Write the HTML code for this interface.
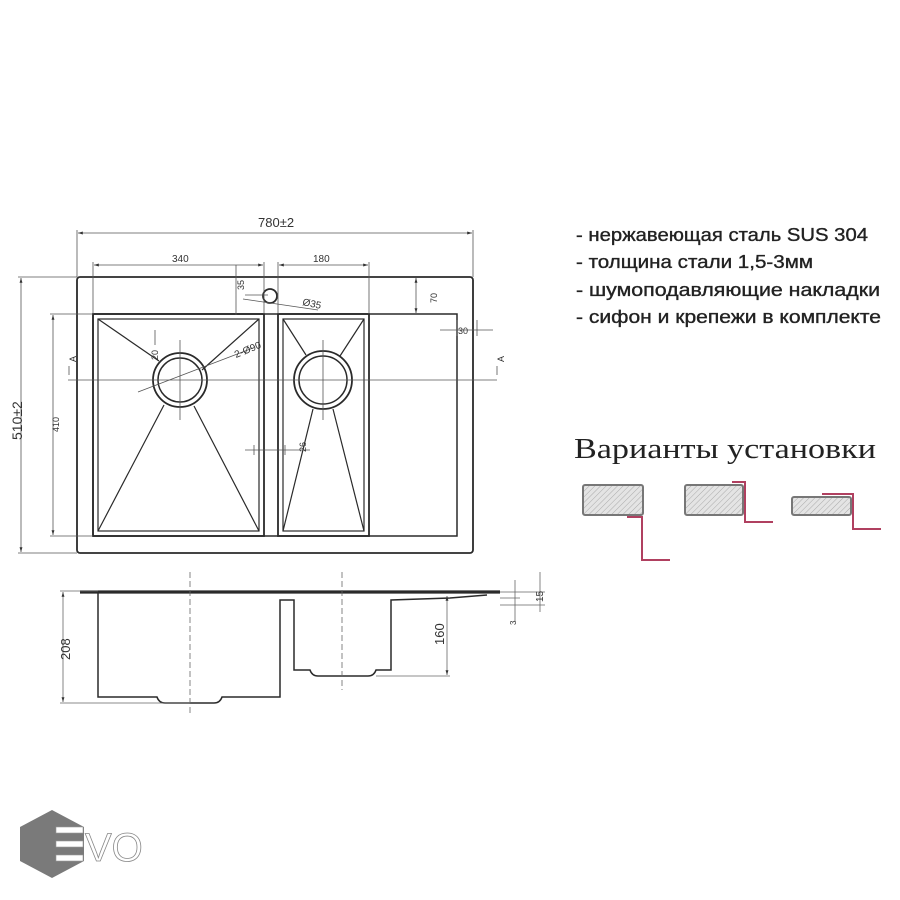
<!DOCTYPE html>
<html><head><meta charset="utf-8"><style>
html,body{margin:0;padding:0;background:#fff;}
svg{display:block}
</style></head><body>
<svg width="900" height="900" viewBox="0 0 900 900" xmlns="http://www.w3.org/2000/svg" font-family="Liberation Sans, sans-serif">
<defs>
<marker id="ar" viewBox="0 0 10 10" refX="10" refY="5" markerWidth="6" markerHeight="6" orient="auto-start-reverse"><path d="M0 2 L10 5 L0 8 Z" fill="#333"/></marker>
<pattern id="h" width="4" height="4" patternUnits="userSpaceOnUse" patternTransform="rotate(45)"><rect width="4" height="4" fill="#e4e4e4"/><line x1="0" y1="0" x2="0" y2="4" stroke="#aaa" stroke-width="1"/></pattern>
</defs>
<g stroke="#2a2a2a" fill="none" stroke-width="1.2">
<rect x="77" y="277" width="396" height="276" rx="3" stroke-width="1.8"/>
<path d="M93 314 H457 V536 H93 Z" stroke-width="1.5"/>
<rect x="93" y="314" width="171" height="222" stroke-width="1.8"/>
<rect x="98" y="319" width="161" height="212"/>
<rect x="278" y="314" width="91" height="222" stroke-width="1.8"/>
<rect x="283" y="319" width="81" height="212"/>
<circle cx="180" cy="380" r="27" stroke-width="1.8"/><circle cx="180" cy="380" r="22" stroke-width="1.5"/>
<circle cx="323" cy="380" r="29" stroke-width="1.8"/><circle cx="323" cy="380" r="24" stroke-width="1.5"/>
<path d="M98 319 L159 361 M259 319 L202 370 M164 405 L98 531 M194 406 L259 531"/>
<path d="M283 319 L306 355 M364 319 L340 356 M313 409 L283 531 M333 409 L364 531"/>
<circle cx="270" cy="296" r="7" stroke-width="1.8"/>
</g>
<g stroke="#555" fill="none" stroke-width="0.8">
<path d="M77 230 V277 M473 230 V277"/>
<path d="M78 233 H472" marker-start="url(#ar)" marker-end="url(#ar)"/>
<path d="M93 262 V314 M264 262 V314 M278 262 V314 M369 262 V314"/>
<path d="M94 265 H263" marker-start="url(#ar)" marker-end="url(#ar)"/>
<path d="M279 265 H368" marker-start="url(#ar)" marker-end="url(#ar)"/>
<path d="M18 277 H77 M18 553 H77"/>
<path d="M21 278 V552" marker-start="url(#ar)" marker-end="url(#ar)"/>
<path d="M50 314 H93 M50 536 H93"/>
<path d="M53 315 V535" marker-start="url(#ar)" marker-end="url(#ar)"/>
<path d="M68 380 H497 M69 366 V375 M497 366 V375"/>
<path d="M236 265 V315 M245 295 H268 M243 299 L318 310"/>
<path d="M416 278 V313" marker-start="url(#ar)" marker-end="url(#ar)"/>
<path d="M440 330 H493 M457 320 V336 M477 320 V336"/>
<path d="M245 450 H310 M254 445 V455 M285 445 V455"/>
<path d="M138 392 L253 348 M155 330 V345"/>
<path d="M180 340 V420 M323 340 V420"/>
</g>
<g fill="#333" font-family="Liberation Sans Narrow, Liberation Sans, sans-serif" font-size="11">
<text x="258" y="227" font-size="13">780±2</text>
<text x="172" y="262" font-size="10">340</text>
<text x="313" y="262" font-size="10">180</text>
<text x="302" y="305" font-size="10" transform="rotate(12 302 305)">Ø35</text>
<text x="458" y="334" font-size="9">30</text>
<text x="236" y="358" font-size="10" transform="rotate(-22 236 358)">2-Ø90</text>
<text transform="translate(22 440) rotate(-90)" font-size="14">510±2</text>
<text transform="translate(59 432) rotate(-90)" font-size="9">410</text>
<text transform="translate(437 303) rotate(-90)" font-size="9">70</text>
<text transform="translate(244 290) rotate(-90)" font-size="9">35</text>
<text transform="translate(158 360) rotate(-90)" font-size="9">20</text>
<text transform="translate(306 452) rotate(-90)" font-size="9">26</text>
<text transform="translate(76 362) rotate(-90)" font-size="9">A</text>
<text transform="translate(504 362) rotate(-90)" font-size="9">A</text>
</g>
<g stroke="#2a2a2a" fill="none" stroke-width="1.5">
<path d="M80 592 H500" stroke-width="3.2"/>
<path d="M98 593 V697 H157 Q159 703 165 703 H214 Q220 703 222 697 H280 V600 H294 V670 H310 Q312 676 318 676 H368 Q374 676 376 670 H391 V600 L450 598 L487 595"/>
</g>
<g stroke="#666" fill="none" stroke-width="0.8">
<path d="M190 572 V715 M342 572 V690" stroke-dasharray="6 3"/>
<path d="M60 591 H98 M60 703 H190"/>
<path d="M63 592 V702" marker-start="url(#ar)" marker-end="url(#ar)"/>
<path d="M376 676 H450"/>
<path d="M447 596 V675" marker-start="url(#ar)" marker-end="url(#ar)"/>
<path d="M515 580 V622 M540 572 V612 M500 592 H545 M500 598 H520 M500 605 H545"/>
</g>
<g fill="#333" font-family="Liberation Sans Narrow, Liberation Sans, sans-serif">
<text transform="translate(70 660) rotate(-90)" font-size="13">208</text>
<text transform="translate(444 645) rotate(-90)" font-size="13">160</text>
<text transform="translate(543 602) rotate(-90)" font-size="10">15</text>
<text transform="translate(516 625) rotate(-90)" font-size="8">3</text>
</g>
<g fill="#222" font-size="18" stroke="#222" stroke-width="0.35" lengthAdjust="spacingAndGlyphs">
<text x="576" y="241" textLength="292" lengthAdjust="spacingAndGlyphs">- нержавеющая сталь SUS 304</text>
<text x="576" y="268" textLength="237" lengthAdjust="spacingAndGlyphs">- толщина стали 1,5-3мм</text>
<text x="576" y="296" textLength="304" lengthAdjust="spacingAndGlyphs">- шумоподавляющие накладки</text>
<text x="576" y="323" textLength="305" lengthAdjust="spacingAndGlyphs">- сифон и крепежи в комплекте</text>
</g>
<text x="574" y="458" font-family="Liberation Serif, serif" font-size="29" fill="#222" textLength="302" lengthAdjust="spacingAndGlyphs">Варианты установки</text>
<g stroke="#777" stroke-width="2" fill="url(#h)">
<rect x="583" y="485" width="60" height="30" rx="2"/>
<rect x="685" y="485" width="58" height="30" rx="2"/>
<rect x="792" y="497" width="59" height="18" rx="2"/>
</g>
<g stroke="#b04060" stroke-width="2" fill="none">
<path d="M627 517 H642 V560 H670"/>
<path d="M732 482 H745 V522 H773"/>
<path d="M822 494 H853 V529 H881"/>
</g>
<polygon points="52,810 84,827 84,861 52,878 20,861 20,827" fill="#7a7a7a"/>
<g fill="#fff" stroke="#999" stroke-width="0.6">
<rect x="56" y="827" width="27" height="6"/><rect x="56" y="841" width="27" height="6"/><rect x="56" y="855" width="27" height="6"/>
</g>
<text x="85" y="861" font-size="40" fill="#fff" stroke="#888" stroke-width="0.8">VO</text>
</svg>
</body></html>
